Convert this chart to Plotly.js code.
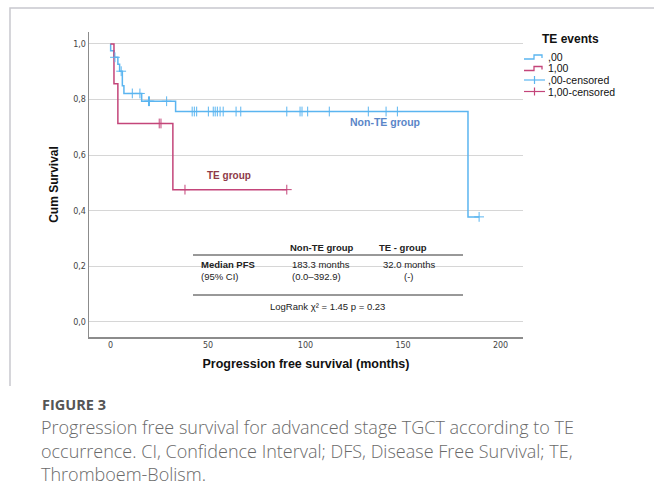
<!DOCTYPE html>
<html>
<head>
<meta charset="utf-8">
<script src="https://cdn.plot.ly/plotly-3.0.1.min.js"></script>
<style>html,body{margin:0;padding:0;background:#fff;}#chart{width:654px;height:488px;}</style>
</head>
<body>
<div id="chart"></div>
<script>
// ---- Data ----
// Non-TE group (",00"): Kaplan–Meier step points (time in months, cumulative survival)
const nonTeTimes = [0, 0.1, 1.8, 3.8, 4.7, 6.1, 6.9, 16.0, 33.4, 183.3, 189.0];
const nonTeSurv  = [1.000, 0.976, 0.952, 0.927, 0.902, 0.850, 0.822, 0.794, 0.757, 0.378, 0.378];
// Non-TE censored times
const nonTeCensored = [2.3, 5.5, 11.2, 15.1, 19.5, 20.0, 28.8, 41.9, 43.0, 44.2, 50.2, 52.7, 53.7, 54.8, 56.2, 57.8, 64.4, 66.8, 90.4, 97.2, 98.2, 101.1, 112.2, 132.2, 141.3, 147.1, 189.0];
// TE group ("1,00")
const teTimes = [0, 1.8, 3.8, 32.0, 90.4];
const teSurv  = [1.000, 0.857, 0.714, 0.476, 0.476];
const teCensored = [25.0, 25.9, 38.2, 90.4];

const yTickVals = [0, 0.2, 0.4, 0.6, 0.8, 1.0];
const yTickText = ['0,0', '0,2', '0,4', '0,6', '0,8', '1,0'];
const xTickVals = [0, 50, 100, 150, 200];
const legendLabels = [',00', '1,00', ',00-censored', '1,00-censored'];
const tableHeader = ['Non-TE group', 'TE - group'];
const captionLines = [
  'Progression free survival for advanced stage TGCT according to TE',
  'occurrence. CI, Confidence Interval; DFS, Disease Free Survival; TE,',
  'Thromboem-Bolism.'
];

// ---- helpers ----
function survAt(times, surv, t) {
  let s = surv[0];
  for (let i = 0; i < times.length; i++) { if (times[i] <= t) s = surv[i]; }
  return s;
}
const W = 654, H = 488, L = 89, R = 523, T = 32, B = 337;
const px = x => (x - L) / (R - L);
const py = y => (B - y) / (B - T);

const BLUE = '#5BB5F0', RED = '#C4457A';

const traces = [
  {x: nonTeTimes, y: nonTeSurv, mode: 'lines', line: {shape: 'hv', color: BLUE, width: 1.5}, showlegend: false, hoverinfo: 'skip'},
  {x: teTimes, y: teSurv, mode: 'lines', line: {shape: 'hv', color: RED, width: 1.5}, showlegend: false, hoverinfo: 'skip'},
  {x: nonTeCensored, y: nonTeCensored.map(t => survAt(nonTeTimes, nonTeSurv, t)), mode: 'markers',
   marker: {symbol: 'cross-thin', size: 7, line: {color: BLUE, width: 1}}, showlegend: false, hoverinfo: 'skip'},
  {x: teCensored, y: teCensored.map(t => survAt(teTimes, teSurv, t)), mode: 'markers',
   marker: {symbol: 'cross-thin', size: 7, line: {color: RED, width: 1}}, showlegend: false, hoverinfo: 'skip'}
];

const TF = 'Liberation Sans, Arial, sans-serif';
const CF = 'Open Sans, sans-serif';
function ann(text, x, y, opts) {
  return Object.assign({text: text, x: px(x), y: py(y), xref: 'paper', yref: 'paper', showarrow: false,
    xanchor: 'center', yanchor: 'middle', font: {family: TF, size: 9.5, color: '#222'}}, opts || {});
}
const capFont = {family: CF, size: 18, color: '#6a6a6a', weight: 300};
const annotations = [
  // table
  ann('<b>' + tableHeader[0] + '</b>', 322, 247),
  ann('<b>' + tableHeader[1] + '</b>', 402.5, 247),
  ann('<b>Median PFS</b>', 199.3, 264, {xanchor: 'left'}),
  ann('(95% CI)', 199.3, 276.5, {xanchor: 'left'}),
  ann('183.3 months', 290, 264, {xanchor: 'left'}),
  ann('(0.0–392.9)', 290, 276.5, {xanchor: 'left'}),
  ann('32.0 months', 380.7, 264, {xanchor: 'left'}),
  ann('(-)', 409.3, 276.5),
  ann('LogRank χ² = 1.45 p = 0.23', 327.5, 306),
  // group labels
  ann('<b>TE group</b>', 229.3, 175, {font: {family: TF, size: 10, color: '#8E3A48'}}),
  ann('<b>Non-TE group</b>', 385, 121.7, {font: {family: TF, size: 10.5, color: '#5A86C8'}}),
  // legend
  ann('<b>TE events</b>', 570, 39, {font: {family: TF, size: 12, color: '#111'}}),
  ann(legendLabels[0], 545.5, 57, {xanchor: 'left', font: {family: TF, size: 10.5, color: '#111'}}),
  ann(legendLabels[1], 545.5, 68.5, {xanchor: 'left', font: {family: TF, size: 10.5, color: '#111'}}),
  ann(legendLabels[2], 545.5, 80, {xanchor: 'left', font: {family: TF, size: 10.5, color: '#111'}}),
  ann(legendLabels[3], 545.5, 91.5, {xanchor: 'left', font: {family: TF, size: 10.5, color: '#111'}}),
  // caption
  ann('<b>FIGURE 3</b>', 40, 404, {xanchor: 'left', font: {family: CF, size: 14.5, color: '#555'}}),
  ann(captionLines[0], 40, 427, {xanchor: 'left', borderpad: 0, font: capFont}),
  ann(captionLines[1], 40, 450.5, {xanchor: 'left', borderpad: 0, font: capFont}),
  ann(captionLines[2], 40, 474, {xanchor: 'left', borderpad: 0, font: capFont})
];

function pathPx(cmds) { // cmds: [[cmd,x,y],...] in pixel coords
  return cmds.map(c => c[0] + px(c[1]).toFixed(5) + ',' + py(c[2]).toFixed(5)).join(' ');
}
const shapes = [
  // white box behind the table (hides gridline)
  {type: 'rect', xref: 'paper', yref: 'paper', x0: px(186), x1: px(474), y0: py(312), y1: py(238), fillcolor: '#fff', line: {width: 0}, layer: 'between'},
  {type: 'line', xref: 'paper', yref: 'paper', x0: px(193), x1: px(463), y0: py(255), y1: py(255), line: {color: '#333', width: 1}},
  {type: 'line', xref: 'paper', yref: 'paper', x0: px(193), x1: px(463), y0: py(295), y1: py(295), line: {color: '#333', width: 1}},
  // legend glyphs
  {type: 'path', xref: 'paper', yref: 'paper', path: pathPx([['M',524,59],['L',534,59],['L',534,55],['L',542,55],['L',542,58]]), line: {color: BLUE, width: 1.3}},
  {type: 'path', xref: 'paper', yref: 'paper', path: pathPx([['M',524,70.5],['L',534,70.5],['L',534,66.5],['L',542,66.5],['L',542,69.5]]), line: {color: RED, width: 1.3}},
  {type: 'line', xref: 'paper', yref: 'paper', x0: px(524), x1: px(545), y0: py(80), y1: py(80), line: {color: BLUE, width: 1.2}},
  {type: 'line', xref: 'paper', yref: 'paper', x0: px(534.5), x1: px(534.5), y0: py(76), y1: py(84), line: {color: BLUE, width: 1.2}},
  {type: 'line', xref: 'paper', yref: 'paper', x0: px(524), x1: px(545), y0: py(91.5), y1: py(91.5), line: {color: RED, width: 1.2}},
  {type: 'line', xref: 'paper', yref: 'paper', x0: px(534.5), x1: px(534.5), y0: py(87.5), y1: py(95.5), line: {color: RED, width: 1.2}},
  // figure frame
  {type: 'path', xref: 'paper', yref: 'paper', path: pathPx([['M',10,386],['L',10,8],['L',660,8]]), line: {color: '#c8c8ce', width: 1.5}}
];

const layout = {
  width: W, height: H,
  margin: {l: L, r: W - R, t: T, b: H - B, pad: 0},
  paper_bgcolor: '#fff', plot_bgcolor: '#fff',
  showlegend: false,
  xaxis: {
    range: [-11, 211.5], tickvals: xTickVals, ticks: '', showgrid: false, zeroline: false,
    showline: true, linecolor: '#8c8c8c', linewidth: 1.5,
    tickfont: {family: 'DejaVu Sans, sans-serif', size: 8, color: '#444'},
    title: {text: '<b>Progression free survival (months)</b>', font: {family: TF, size: 12.5, color: '#111'}, standoff: 10}
  },
  yaxis: {
    range: [-0.054, 1.043], tickvals: yTickVals, ticktext: yTickText, ticks: '', showgrid: true, gridcolor: '#d6d6d6', gridwidth: 1,
    zeroline: false, showline: true, linecolor: '#8c8c8c', linewidth: 1.5,
    tickfont: {family: 'DejaVu Sans, sans-serif', size: 8, color: '#444'},
    title: {text: '<b>Cum Survival</b>', font: {family: TF, size: 12, color: '#111'}, standoff: 12}
  },
  annotations: annotations,
  shapes: shapes
};

Plotly.newPlot('chart', traces, layout, {staticPlot: true, displayModeBar: false});
</script>
</body>
</html>
